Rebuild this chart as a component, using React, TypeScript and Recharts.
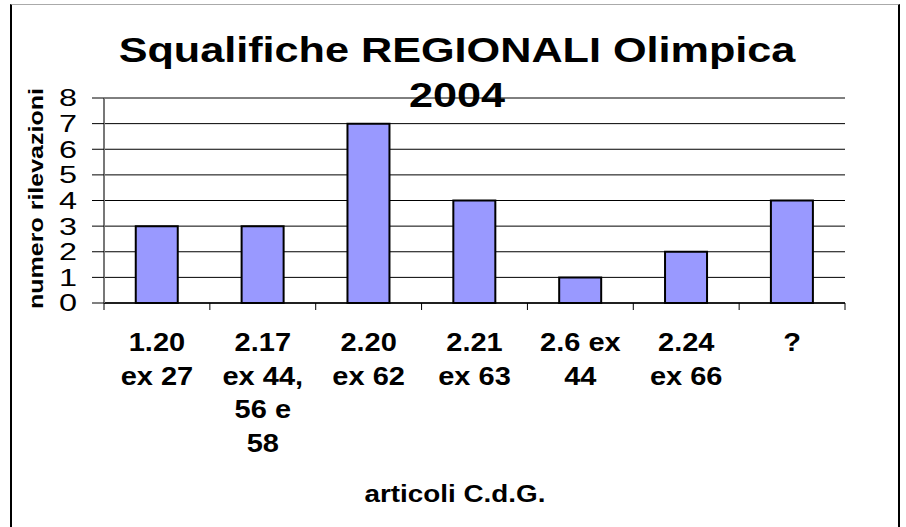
import React from "react";
import { Bar, BarChart, CartesianGrid, XAxis, YAxis } from "recharts";

// categories on the x axis ("\n" marks a line break in the tick label)
const categories = [
  "1.20\nex 27",
  "2.17\nex 44,\n56 e\n58",
  "2.20\nex 62",
  "2.21\nex 63",
  "2.6 ex\n44",
  "2.24\nex 66",
  "?",
];
const counts = [3, 3, 7, 4, 1, 2, 4];
const yTicks = [0, 1, 2, 3, 4, 5, 6, 7, 8];
const titleLines = ["Squalifiche REGIONALI Olimpica", "2004"];
const yTitle = "numero rilevazioni";
const xTitle = "articoli C.d.G.";

const data = categories.map((name, i) => ({ name, value: counts[i] }));

const FONT = '"Liberation Sans", Arial, Helvetica, sans-serif';
const W = 906;
const H = 527;
const PLOT_LEFT = 104;
const PLOT_RIGHT = 845;
const PLOT_TOP = 98;
const X_AXIS_H = 224;
const BAND = (PLOT_RIGHT - PLOT_LEFT) / categories.length;

const XTick = (props: any) => {
  const { x, y, payload, index } = props;
  const lines = String(payload.value).split("\n");
  const half = BAND / 2;
  return (
    <g>
      <line x1={x - half} x2={x - half} y1={y} y2={y + 7} stroke="#000" strokeWidth={1} />
      {index === categories.length - 1 && (
        <line x1={x + half} x2={x + half} y1={y} y2={y + 7} stroke="#000" strokeWidth={1} />
      )}
      {lines.map((l, i) => (
        <text
          key={i}
          transform={`translate(${x},${y + 48 + i * 33.5}) scale(1.16,1)`}
          textAnchor="middle"
          fontFamily={FONT}
          fontWeight="bold"
          fontSize={25}
          fill="#000"
        >
          {l}
        </text>
      ))}
    </g>
  );
};

const YTick = (props: any) => {
  const { x, y, payload } = props;
  return (
    <text
      transform={`translate(${x},${y}) scale(1.35,1)`}
      textAnchor="end"
      dominantBaseline="central"
      fontFamily={FONT}
      fontSize={24}
      fill="#000"
    >
      {payload.value}
    </text>
  );
};

const YTitle = (props: any) => {
  const vb = props.viewBox || { x: 0, y: PLOT_TOP, width: PLOT_LEFT, height: 205 };
  const cx = vb.x + 36;
  const cy = vb.y + vb.height / 2 - 2;
  return (
    <text
      transform={`translate(${cx},${cy}) rotate(-90) scale(1.22,1)`}
      textAnchor="middle"
      dominantBaseline="central"
      fontFamily={FONT}
      fontWeight="bold"
      fontSize={20.5}
      fill="#000"
    >
      {yTitle}
    </text>
  );
};

const XTitle = (props: any) => {
  const vb = props.viewBox || { x: PLOT_LEFT, y: 303, width: 741, height: X_AXIS_H };
  return (
    <text
      transform={`translate(${vb.x + 351},${vb.y + 199}) scale(1.16,1)`}
      textAnchor="middle"
      fontFamily={FONT}
      fontWeight="bold"
      fontSize={24}
      fill="#000"
    >
      {xTitle}
    </text>
  );
};

export default function App() {
  return (
    <div
      style={{
        position: "absolute",
        left: 0,
        top: 0,
        width: W,
        height: H,
        overflow: "hidden",
        background: "#fff",
        fontFamily: FONT,
      }}
    >
      <div
        style={{
          position: "absolute",
          left: 10,
          top: 4,
          width: 890,
          height: 600,
          boxSizing: "border-box",
          borderLeft: "2px solid #000",
          borderRight: "2px solid #000",
          borderTop: "1px solid #aaa",
        }}
      />
      <div style={{ position: "absolute", left: 0, top: 0 }}>
        <BarChart
          width={W}
          height={H}
          data={data}
          margin={{ top: PLOT_TOP, right: W - PLOT_RIGHT, bottom: 0, left: 0 }}
          barCategoryGap="30%"
        >
          <CartesianGrid vertical={false} stroke="#000" strokeWidth={1} />
          <XAxis
            dataKey="name"
            height={X_AXIS_H}
            interval={0}
            tickSize={0}
            tickMargin={0}
            tickLine={false}
            axisLine={{ stroke: "#000", strokeWidth: 1.5 }}
            tick={<XTick />}
            label={{ content: <XTitle /> }}
          />
          <YAxis
            width={PLOT_LEFT}
            domain={[0, 8]}
            ticks={yTicks}
            interval={0}
            tickSize={12}
            tickMargin={15}
            tickLine={{ stroke: "#000" }}
            axisLine={{ stroke: "#777", strokeWidth: 2 }}
            tick={<YTick />}
            label={{ content: <YTitle /> }}
          />
          <YAxis
            yAxisId="right"
            orientation="right"
            width={0}
            domain={[0, 8]}
            tick={false}
            tickLine={false}
            axisLine={{ stroke: "#888", strokeWidth: 3 }}
          />
          <XAxis
            xAxisId="top"
            orientation="top"
            dataKey="name"
            height={0}
            tick={false}
            tickLine={false}
            axisLine={{ stroke: "#888", strokeWidth: 2 }}
          />
          <Bar
            dataKey="value"
            fill="#9999FF"
            stroke="#000"
            strokeWidth={2}
            isAnimationActive={false}
          />
        </BarChart>
      </div>
      <svg
        width={W}
        height={H}
        style={{ position: "absolute", left: 0, top: 0, pointerEvents: "none" }}
      >
        {titleLines.map((t, i) => (
          <text
            key={i}
            transform={`translate(457,${62 + i * 45}) scale(1.2,1)`}
            textAnchor="middle"
            fontFamily={FONT}
            fontWeight="bold"
            fontSize={36}
            fill="#000"
          >
            {t}
          </text>
        ))}
      </svg>
    </div>
  );
}
